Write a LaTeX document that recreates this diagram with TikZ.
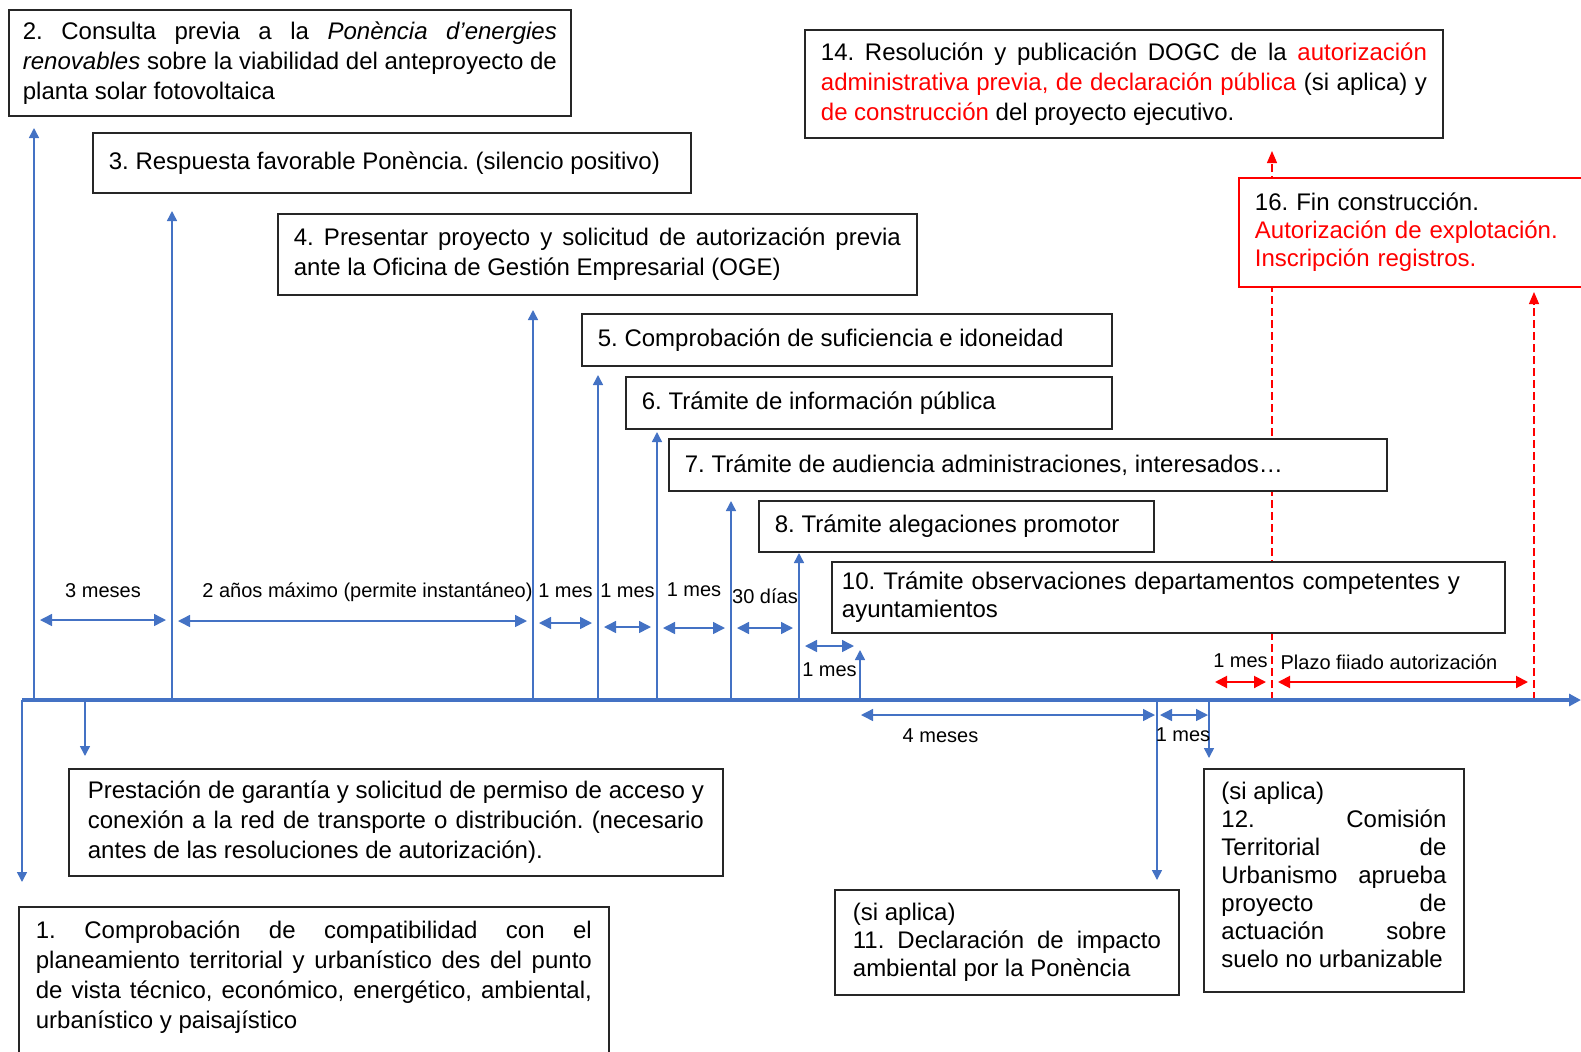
\documentclass[tikz,border=0pt]{standalone}
\usepackage{fontspec}
\setmainfont{Liberation Sans}
\usepackage{xcolor}
\usepackage{tikz}
\usetikzlibrary{arrows.meta,positioning}
\definecolor{azul}{HTML}{4472C4}
\definecolor{rojo}{HTML}{FF0000}
\definecolor{bk90}{HTML}{262626}
\hyphenpenalty=10000
\exhyphenpenalty=10000
\tolerance=9999
\frenchspacing
\tikzset{
  paso/.style={
    rectangle, draw=bk90, fill=white, line width=0.9pt, anchor=north west,
    inner xsep=8pt, inner ysep=3pt, align=justify,
    font=\fontsize{12}{15}\selectfont
  },
  pasob/.style={paso, font=\fontsize{12}{14}\selectfont},
  pasorojo/.style={pasob, draw=rojo, align=left},
  tickarrow/.style={-{Triangle[length=5pt,width=5pt]}, line width=0.75pt, azul},
  dimarrow/.style={
    {Triangle[length=6pt,width=6pt]}-{Triangle[length=6pt,width=6pt]},
    line width=0.75pt, azul, shorten <=3pt, shorten >=3pt
  },
  plazo/.style={dimarrow, rojo, line width=1pt},
  discont/.style={-{Triangle[length=6pt,width=5pt]}, rojo, line width=0.6pt,
    dash pattern=on 4pt off 2pt},
  eje/.style={-{Triangle[length=6pt,width=6pt]}, line width=2pt, azul},
  dimlabel/.style={font=\fontsize{10}{12}\selectfont, text=black, inner sep=1pt,
    text height=7pt, text depth=2pt},
}

\begin{document}
\begin{tikzpicture}[x=0.5pt, y=-0.5pt]
    \useasboundingbox (0,0) rectangle (1581,1051);

    \coordinate (t0) at (22,700);   \coordinate (q0) at (22,882);
    \coordinate (t1) at (34,700);   \coordinate (p1) at (34,128);
    \coordinate (tg) at (85,700);   \coordinate (qg) at (85,756);
    \coordinate (t2) at (172,700);  \coordinate (p2) at (172,211);
    \coordinate (t3) at (533,700);  \coordinate (p3) at (533,310);
    \coordinate (t4) at (598,700);  \coordinate (p4) at (598,375);
    \coordinate (t5) at (657,700);  \coordinate (p5) at (657,432);
    \coordinate (t6) at (731,700);  \coordinate (p6) at (731,501);
    \coordinate (t7) at (799,700);  \coordinate (p7) at (799,553);
    \coordinate (t8) at (860,700);  \coordinate (p8) at (860,650);
    \coordinate (t11) at (1157,700); \coordinate (q11) at (1157,880);
    \coordinate (t12) at (1209,700); \coordinate (q12) at (1209,758);
    \coordinate (t14) at (1272,700); \coordinate (p14) at (1272,151);
    \coordinate (t16) at (1534,700); \coordinate (p16) at (1534,292);
    \coordinate (fin) at (1581,700);

    \draw[discont] (t14) -- (p14);
    \draw[discont] (t16) -- (p16);

    \node[paso, text width=267pt, inner xsep=7pt, minimum width=281pt, minimum height=53pt] (consulta) at (8,9)
      {2. Consulta previa a la \textit{Ponència d'energies}\linebreak \textit{renovables} sobre la viabilidad del anteproyecto de\linebreak planta solar fotovoltaica};
    \node[paso, text width=283pt, minimum width=299pt, minimum height=30pt] (respuesta) at (92,132)
      {3. Respuesta favorable Ponència. (silencio positivo)};
    \node[paso, text width=303.5pt, minimum width=319.5pt, minimum height=40.5pt] (presentar) at (277,213)
      {4. Presentar proyecto y solicitud de autorización previa\linebreak ante la Oficina de Gestión Empresarial (OGE)};
    \node[paso, text width=249pt, minimum width=265pt, minimum height=26pt] (suficiencia) at (581,313)
      {5. Comprobación de suficiencia e idoneidad};
    \node[paso, text width=227pt, minimum width=243pt, minimum height=26pt] (informacion) at (625,376)
      {6. Trámite de información pública};
    \node[paso, text width=343pt, minimum width=359pt, minimum height=26pt] (audiencia) at (668,438)
      {7. Trámite de audiencia administraciones, interesados…};
    \node[paso, text width=181.5pt, minimum width=197.5pt, minimum height=25.5pt] (alegaciones) at (758,500)
      {8. Trámite alegaciones promotor};
    \node[pasob, align=left, inner xsep=5pt, text width=326.5pt, minimum width=336.5pt, minimum height=35.5pt] (observaciones) at (831,561)
      {10. Trámite observaciones departamentos competentes y ayuntamientos};
    \node[paso, text width=303pt, minimum width=319pt, minimum height=54pt] (resolucion) at (804,29)
      {14. Resolución y publicación DOGC de la \textcolor{rojo}{autorización}\linebreak
       \textcolor{rojo}{administrativa previa, de declaración pública} (si aplica) y\linebreak
       \textcolor{rojo}{de construcción} del proyecto ejecutivo.};
    \node[pasorojo, text width=164pt, minimum width=180pt, minimum height=54.5pt] (explotacion) at (1238,177)
      {16. Fin construcción.\\ \textcolor{rojo}{Autorización de explotación.}\\ \textcolor{rojo}{Inscripción registros.}};
    \node[paso, text width=308pt, minimum width=327pt, minimum height=53.5pt] (garantia) at (68,768)
      {Prestación de garantía y solicitud de permiso de acceso y\linebreak conexión a la red de transporte o distribución. (necesario\linebreak antes de las resoluciones de autorización).};
    \node[paso, text width=278pt, minimum width=295pt, inner ysep=7pt, text depth=70pt] (compatibilidad) at (18,906)
      {1. Comprobación de compatibilidad con el\linebreak planeamiento territorial y urbanístico des del punto\linebreak de vista técnico, económico, energético, ambiental,\linebreak urbanístico y paisajístico};
    \node[pasob, text width=154pt, minimum width=172pt, minimum height=52.5pt] (impacto) at (834,889)
      {(si aplica)\\ 11. Declaración de impacto\linebreak ambiental por la Ponència};
    \node[pasob, text width=112.5pt, minimum width=130pt, inner ysep=6.5pt, text depth=90pt] (urbanismo) at (1203,768)
      {(si aplica)\\ 12. Comisión\linebreak Territorial de\linebreak Urbanismo aprueba\linebreak proyecto de\linebreak actuación sobre\linebreak suelo no urbanizable};

    \draw[tickarrow] (t1) -- (p1);
    \draw[tickarrow] (t2) -- (p2);
    \draw[tickarrow] (t3) -- (p3);
    \draw[tickarrow] (t4) -- (p4);
    \draw[tickarrow] (t5) -- (p5);
    \draw[tickarrow] (t6) -- (p6);
    \draw[tickarrow] (t7) -- (p7);
    \draw[tickarrow] (t8) -- (p8);
    \draw[tickarrow] (t0) -- (q0);
    \draw[tickarrow] (tg) -- (qg);
    \draw[tickarrow] (t11) -- (q11);
    \draw[tickarrow] (t12) -- (q12);
    \draw[eje] (t0) -- (fin);

    \draw[dimarrow] ([yshift=40pt]t1) -- node[dimlabel, above=8pt] {3 meses} ([yshift=40pt]t2);
    \draw[dimarrow] ([yshift=39.5pt]t2) -- node[dimlabel, above=8.5pt, xshift=7.5pt] {2 años máximo (permite instantáneo)} ([yshift=39.5pt]t3);
    \draw[dimarrow] ([yshift=38.5pt]t3) -- node[dimlabel, above=9.5pt] {1 mes} ([yshift=38.5pt]t4);
    \draw[dimarrow] ([yshift=36.5pt]t4) -- node[dimlabel, above=11.5pt] {1 mes} ([yshift=36.5pt]t5);
    \draw[dimarrow] ([yshift=36pt]t5) -- node[dimlabel, above=12.5pt] {1 mes} ([yshift=36pt]t6);
    \draw[dimarrow] ([yshift=36pt]t6) -- node[dimlabel, above=9pt] {30 días} ([yshift=36pt]t7);
    \draw[dimarrow] ([yshift=27pt]t7) -- node[dimlabel, below=7pt] {1 mes} ([yshift=27pt]t8);
    \draw[dimarrow, shorten <=0.5pt, shorten >=1pt] ([yshift=-7.5pt]t8) -- node[dimlabel, below=5.5pt, xshift=-34pt] {4 meses} ([yshift=-7.5pt]t11);
    \draw[dimarrow, shorten <=1.5pt, shorten >=0.5pt] ([yshift=-7.5pt]t11) -- node[dimlabel, below=5pt] {1 mes} ([yshift=-7.5pt]t12);
    \draw[plazo] ([yshift=9pt]t12) -- node[dimlabel, above=4pt] {1 mes} ([yshift=9pt]t14);
    \draw[plazo] ([yshift=9pt]t14) -- node[dimlabel, above=3pt, xshift=-7pt] {Plazo fiiado autorización} ([yshift=9pt]t16);
\end{tikzpicture}
\end{document}
